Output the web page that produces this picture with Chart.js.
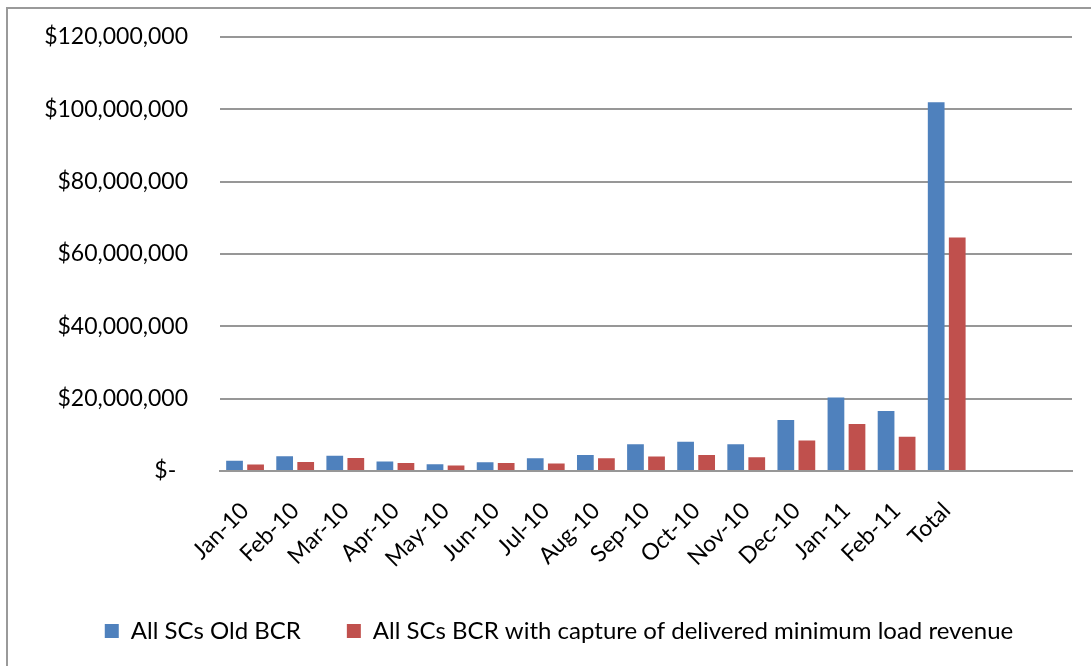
<!DOCTYPE html>
<html>
<head>
<meta charset="utf-8">
<script src="https://cdn.jsdelivr.net/npm/chart.js@4.4.1/dist/chart.umd.min.js"></script>
<style>
  html, body { margin: 0; padding: 0; background: #fff; }
  #wrap { width: 1091px; height: 666px; position: relative; }
</style>
</head>
<body>
<div id="wrap"><canvas id="bcrChart"></canvas></div>
<script>
// categories (two empty slots after Total, as in the source sheet)
const months = ['Jan-10', 'Feb-10', 'Mar-10', 'Apr-10', 'May-10', 'Jun-10', 'Jul-10',
    'Aug-10', 'Sep-10', 'Oct-10', 'Nov-10', 'Dec-10', 'Jan-11', 'Feb-11', 'Total', '', ''];

// values in dollars
const oldBcr = [2800000, 4100000, 4200000, 2600000, 1900000, 2400000, 3500000,
    4400000, 7400000, 8100000, 7400000, 14100000, 20300000, 16600000, 101900000, null, null];
const newBcr = [1800000, 2500000, 3600000, 2200000, 1500000, 2200000, 2100000,
    3500000, 4000000, 4400000, 3800000, 8400000, 13000000, 9500000, 64500000, null, null];

const yTicks = [0, 20000000, 40000000, 60000000, 80000000, 100000000, 120000000];

const FONT = 'Lato, "Liberation Sans", sans-serif';
const gridGray = '#979797';

// frame around the chart (only top/left edge visible in the crop)
const framePlugin = {
    id: 'frame',
    beforeDraw(chart) {
        const ctx = chart.ctx;
        ctx.save();
        ctx.strokeStyle = '#9a9a9a';
        ctx.lineWidth = 2;
        ctx.beginPath();
        ctx.moveTo(7, 700);
        ctx.lineTo(7, 8);
        ctx.lineTo(1100, 8);
        ctx.stroke();
        ctx.restore();
    }
};

// legend sits centred on the whole frame, not on the plot
const legendShift = {
    id: 'legendShift',
    afterLayout(chart) {
        chart.legend.left += 23;
        chart.legend.right += 23;
    }
};

new Chart(document.getElementById('bcrChart'), {
    type: 'bar',
    data: {
        labels: months,
        datasets: [{
            label: 'All SCs Old BCR',
            data: oldBcr,
            backgroundColor: '#4F81BD',
            categoryPercentage: 0.84,
            barPercentage: 0.795
        }, {
            label: 'All SCs BCR with capture of delivered minimum load revenue',
            data: newBcr,
            backgroundColor: '#C0504D',
            categoryPercentage: 0.84,
            barPercentage: 0.795
        }]
    },
    options: {
        responsive: true,
        maintainAspectRatio: false,
        animation: false,
        layout: {
            padding: { left: 0, right: 19, top: 29, bottom: 13 }
        },
        plugins: {
            legend: {
                position: 'bottom',
                labels: {
                    boxWidth: 14,
                    boxHeight: 14,
                    padding: 46,
                    color: '#000',
                    font: { family: FONT, size: 24 }
                }
            },
            tooltip: { enabled: false }
        },
        scales: {
            x: {
                grid: { display: false },
                border: { display: true, color: gridGray, width: 2 },
                ticks: {
                    autoSkip: false,
                    maxRotation: 45,
                    minRotation: 45,
                    padding: 18,
                    color: '#000',
                    font: { family: FONT, size: 23 }
                },
                afterFit(scale) { scale.height = 102; }
            },
            y: {
                min: 0,
                max: 120000000,
                afterBuildTicks(scale) {
                    scale.ticks = yTicks.map(v => ({ value: v }));
                },
                // invisible tick marks give the label gap without extra top padding
                grid: { color: gridGray, lineWidth: 2, drawTicks: true, tickLength: 9, tickColor: 'rgba(0,0,0,0)' },
                border: { display: false },
                ticks: {
                    padding: 23,
                    color: '#000',
                    font: { family: FONT, size: 23 },
                    callback: (v) => v === 0 ? '$-  ' : '$' + v.toLocaleString('en-US')
                },
                afterFit(scale) { scale.width = 220; }
            }
        }
    },
    plugins: [framePlugin, legendShift]
});
</script>
</body>
</html>
